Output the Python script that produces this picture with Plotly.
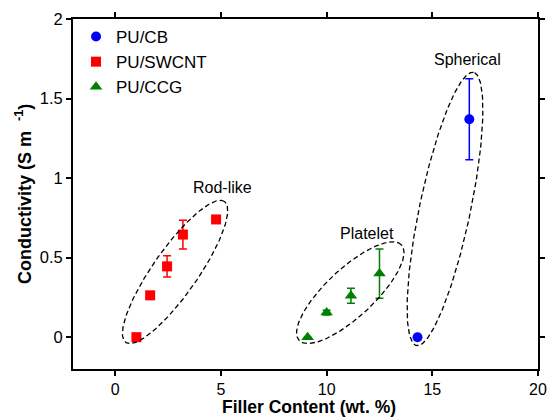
import numpy as np
import plotly.graph_objects as go

# ---- data ----
cb_x = [14.3, 16.75]
cb_y = [0.0, 1.37]
cb_err = [0.0, 0.255]

swcnt_x = [1.0, 1.65, 2.45, 3.2, 4.77]
swcnt_y = [0.0, 0.263, 0.445, 0.645, 0.74]
swcnt_err = [0.0, 0.0, 0.067, 0.09, 0.0]

ccg_x = [9.1, 10.0, 11.15, 12.5]
ccg_y = [0.0, 0.155, 0.26, 0.40]
ccg_err = [0.0, 0.015, 0.047, 0.155]

x_ticks = [0, 5, 10, 15, 20]
y_ticks = [0, 0.5, 1, 1.5, 2]
y_ticktext = ["0", "0.5", "1", "1.5", "2"]

# ellipse groups: label, centre x, centre y, semi-major (px), semi-minor (px), angle (deg)
ell_labels = ["Rod-like", "Platelet", "Spherical"]
ell_cx = [2.83, 11.12, 15.6]
ell_cy = [0.41, 0.28, 0.806]
ell_a = [86, 70, 139.5]
ell_b = [22.5, 24, 25.5]
ell_ang = [55, 43, 78.2]
lab_x = [5.09, 11.92, 16.67]
lab_y = [0.94, 0.654, 1.744]

# ---- layout geometry ----
W, H = 550, 418
ML, MR, MT, MB = 73, 12, 19, 49
XR = [-2, 20]
YR = [-0.2, 2]
PW = W - ML - MR
PH = H - MT - MB
sx = PW / (XR[1] - XR[0])
sy = PH / (YR[1] - YR[0])

FONT = "Liberation Sans, Arial, Helvetica, sans-serif"

fig = go.Figure()

def add_series(x, y, err, name, color, symbol, size):
    fig.add_trace(go.Scatter(
        x=x, y=y, mode="markers", name=name,
        marker=dict(color=color, symbol=symbol, size=size, line=dict(width=0)),
        error_y=dict(type="data", array=err, visible=True, color=color,
                     thickness=1.5, width=4),
    ))

add_series(cb_x, cb_y, cb_err, "PU/CB", "#0000ff", "circle", 10)
add_series(swcnt_x, swcnt_y, swcnt_err, "PU/SWCNT", "#ff0000", "square", 10)
add_series(ccg_x, ccg_y, ccg_err, "PU/CCG", "#008000", "triangle-up", 11)

t = np.linspace(0, 2 * np.pi, 241)
for i in range(len(ell_labels)):
    th = np.deg2rad(ell_ang[i])
    px = ell_a[i] * np.cos(t) * np.cos(th) - ell_b[i] * np.sin(t) * np.sin(th)
    py = ell_a[i] * np.cos(t) * np.sin(th) + ell_b[i] * np.sin(t) * np.cos(th)
    fig.add_trace(go.Scatter(
        x=ell_cx[i] + px / sx, y=ell_cy[i] + py / sy, mode="lines",
        line=dict(color="black", width=1.3, dash="5px,3px"),
        showlegend=False, hoverinfo="skip",
    ))
    fig.add_annotation(x=lab_x[i], y=lab_y[i], text=ell_labels[i], showarrow=False,
                       font=dict(family=FONT, size=16, color="black"))

axis_common = dict(
    showline=True, linecolor="black", linewidth=2, mirror="ticks",
    ticks="outside", ticklen=5, tickwidth=1.5, tickcolor="black",
    showgrid=False, zeroline=False, automargin=False,
    tickfont=dict(family=FONT, size=16.5, color="black"),
)

fig.update_xaxes(range=XR, tickvals=x_ticks, **axis_common)
fig.update_xaxes(tickfont=dict(size=16))
fig.update_yaxes(range=YR, tickvals=y_ticks, ticktext=y_ticktext, **axis_common)

# axis titles
fig.add_annotation(xref="paper", yref="paper", x=0.5 + 3.0 / PW, y=-(418 - MT - PH) / PH,
                   text="<b>Filler Content (wt. %)</b>", showarrow=False,
                   xanchor="center", yanchor="bottom", borderpad=0,
                   font=dict(family=FONT, size=17.5, color="black"))
fig.add_annotation(xref="paper", yref="paper", x=-(ML - 23) / PW, y=0.5,
                   text="<b>Conductivity (S m&nbsp;&nbsp;<sup>-1</sup>)</b>", textangle=-90,
                   showarrow=False, xanchor="center", yanchor="middle",
                   font=dict(family=FONT, size=18, color="black"))

fig.update_layout(
    width=W, height=H,
    margin=dict(l=ML, r=MR, t=MT, b=MB, autoexpand=False),
    plot_bgcolor="white", paper_bgcolor="white",
    font=dict(family=FONT, color="black"),
    legend=dict(x=0.0065, y=1.0, xanchor="left", yanchor="top",
                bgcolor="rgba(0,0,0,0)", itemwidth=30,
                font=dict(family=FONT, size=17, color="black")),
)

fig.write_html("out.html", config={"displayModeBar": False},
               post_script="document.body.style.margin='0';document.body.style.overflow='hidden';")
